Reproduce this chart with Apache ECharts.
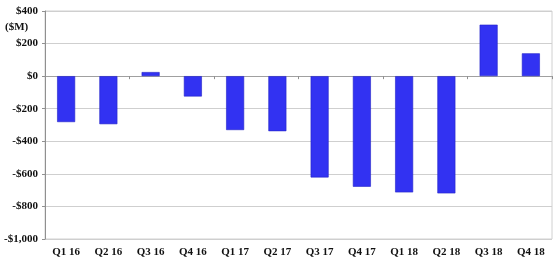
<!DOCTYPE html>
<html><head><meta charset="utf-8">
<script src="https://cdn.jsdelivr.net/npm/echarts@6/dist/echarts.min.js"></script>
<style>html,body{margin:0;padding:0;background:#fff}#c{width:559px;height:265px}</style>
</head><body><div id="c"></div>
<script>
const categories = ['Q1 16','Q2 16','Q3 16','Q4 16','Q1 17','Q2 17','Q3 17','Q4 17','Q1 18','Q2 18','Q3 18','Q4 18'];
const values = [-282, -295, 25, -125, -331, -338, -622, -679, -714, -720, 316, 140];
const unitLabel = '($M)';
const fontFam = '"Liberation Serif", "Times New Roman", serif';
const chart = echarts.init(document.getElementById('c'));
chart.setOption({
  animation: false,
  grid: { left: 45, right: 7, top: 11, bottom: 26, show: true, borderColor: '#d0d0d0', borderWidth: 1 },
  xAxis: [{
    type: 'category', data: categories, position: 'bottom',
    axisLine: { show: false, onZero: false },
    axisTick: { show: false },
    axisLabel: { color: '#111', fontFamily: fontFam, fontWeight: 'bold', fontSize: 11, margin: 8 }
  }, {
    type: 'category', data: categories, position: 'bottom',
    axisLine: { show: true, onZero: true, lineStyle: { color: '#a0a0a0', width: 1 } },
    axisTick: { show: true, length: 3, lineStyle: { color: '#909090' } },
    axisLabel: { show: false }
  }],
  yAxis: {
    type: 'value', min: -1000, max: 400, interval: 200,
    axisLine: { show: true, lineStyle: { color: '#909090' } },
    axisTick: { show: true, length: 3, lineStyle: { color: '#909090' } },
    splitLine: { lineStyle: { color: '#cfcfcf', width: 1 } },
    axisLabel: {
      color: '#111', fontFamily: fontFam, fontWeight: 'bold', fontSize: 11, margin: 7,
      formatter: v => (v < 0 ? '-' : '') + '$' + Math.abs(v).toLocaleString('en-US')
    }
  },
  graphic: [{
    type: 'text', left: 5, top: 22,
    style: { text: unitLabel, fill: '#111', font: 'bold 11px ' + fontFam }
  }],
  series: [{
    type: 'bar', data: values, xAxisIndex: 0, barWidth: 18,
    itemStyle: { color: '#3232f2', borderColor: '#2424c8', borderWidth: 0.6 }
  }]
});
</script></body></html>
